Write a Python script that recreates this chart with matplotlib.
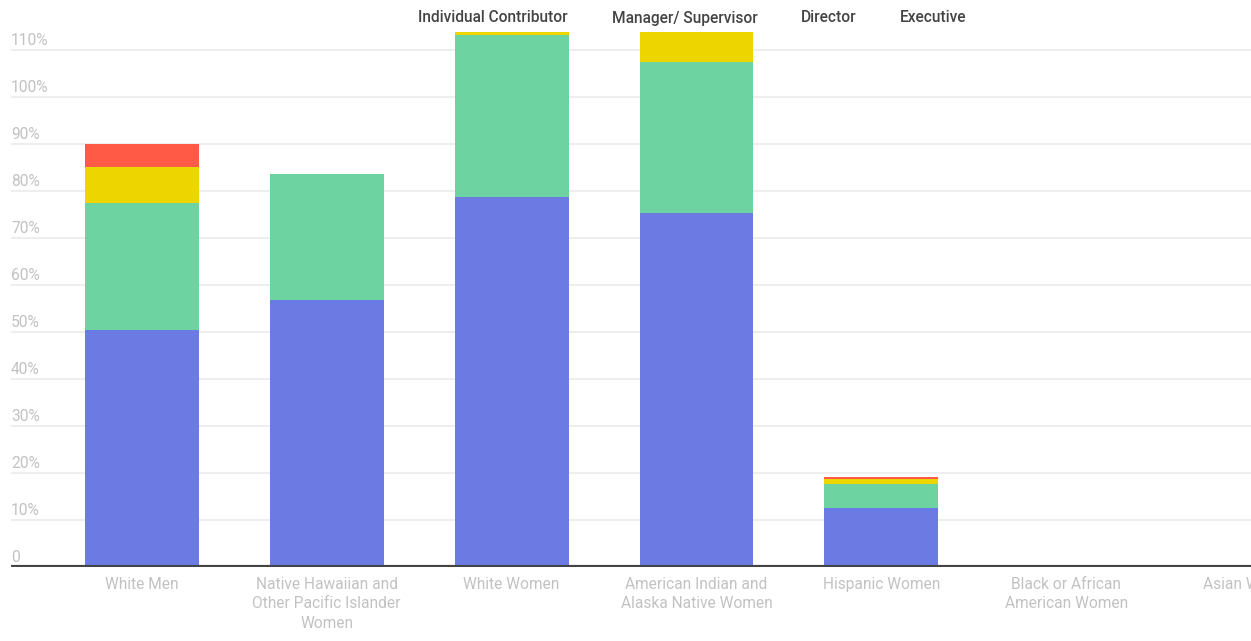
import matplotlib.pyplot as plt
import numpy as np

# ============================================================
# Data
# ============================================================
categories = ["White Men", "Native Hawaiian and\nOther Pacific Islander\nWomen", "White Women",
              "American Indian and\nAlaska Native Women", "Hispanic Women",
              "Black or African\nAmerican Women", "Asian Women"]
levels = ["Individual Contributor", "Manager/ Supervisor", "Director", "Executive"]
individual = [50.4, 56.8, 78.7, 75.3, 12.6, 0, 0]
manager = [27.0, 26.8, 34.5, 32.1, 5.1, 0, 0]
director = [7.7, 0, 8.0, 10.0, 1.0, 0, 0]
executive = [4.9, 0, 0, 0, 0.4, 0, 0]
yticks = [0, 10, 20, 30, 40, 50, 60, 70, 80, 90, 100, 110]

colors = ["#6C7BE3", "#6DD3A0", "#EDD500", "#FF5A45"]

plt.rcParams['font.family'] = ['Roboto', 'DejaVu Sans']

fig = plt.figure(figsize=(12.51, 6.41), dpi=100)
W, H = 1251, 641
left, right, bottom, top = 11, 1251, 567, 32
ax = fig.add_axes([left / W, 1 - bottom / H, (right - left) / W, (bottom - top) / H])

x = np.arange(len(categories))
base = np.zeros(len(categories))
for vals, c in zip([individual, manager, director, executive], colors):
    ax.bar(x, vals, bottom=base, width=0.616, color=c, zorder=2)
    base = base + np.array(vals)

ax.set_xlim((left - 142) / 185, (right - 142) / 185)
ax.set_ylim(0, (bottom - top) / 4.7)

# gridlines and labels
for t in yticks:
    if t > 0:
        ax.axhline(t, color="#EEEEEE", lw=1.5, zorder=1)
    ax.annotate("0" if t == 0 else f"{t}%", xy=(0, t), xycoords=("axes fraction", "data"),
                xytext=(0, 1.2), textcoords="offset points", ha="left", va="bottom",
                color="#C2C2C2", fontsize=11.2)
ax.axhline(0, color="#444444", lw=3, zorder=3)

ax.set_xticks(x)
ax.set_xticklabels(categories, color="#C2C2C2", fontsize=11.2, linespacing=1.38)
ax.tick_params(axis="x", length=0, pad=7)
ax.set_yticks([])
for s in ax.spines.values():
    s.set_visible(False)

# legend as plain text
for name, xc in zip(levels, [493, 685, 829, 933]):
    fig.text(xc / W, 1 - 18 / H, name, ha="center", va="center", color="#444444",
             fontsize=11.2, fontweight="medium")

fig.savefig("out.png", dpi=100)
